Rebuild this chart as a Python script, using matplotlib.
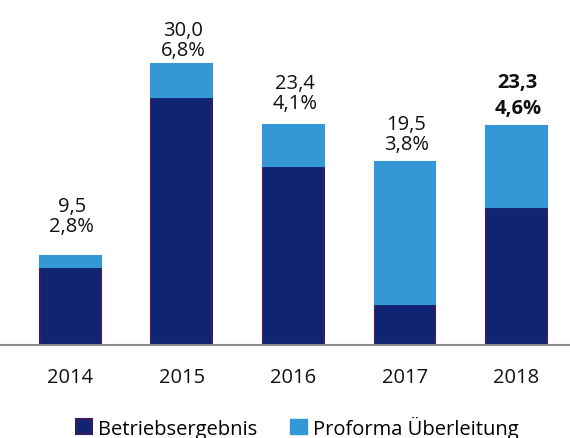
import matplotlib
matplotlib.use("Agg")
import matplotlib.pyplot as plt
from matplotlib.patches import Patch

years = ["2014", "2015", "2016", "2017", "2018"]
betriebsergebnis = [8.3, 26.4, 19.1, 4.3, 14.7]
totals = [9.5, 30.0, 23.4, 19.5, 23.3]
proforma = [t - b for t, b in zip(totals, betriebsergebnis)]
value_labels = ["9,5", "30,0", "23,4", "19,5", "23,3"]
pct_labels = ["2,8%", "6,8%", "4,1%", "3,8%", "4,6%"]
bold_flags = [False, False, False, False, True]
label_gap_px = [20, 4, 12, 8, 8]

dark = "#0f2574"
dark_edge = "#3b1d5e"
light = "#3497d6"

plt.rcParams['font.family'] = ['Open Sans', 'DejaVu Sans']

fig = plt.figure(figsize=(5.7, 4.39), dpi=100)
ax = fig.add_axes([0, (439 - 345.7) / 439, 1, 345.7 / 439])

x = list(range(len(years)))
w = 0.545
ax.bar(x, betriebsergebnis, width=w, color=dark, edgecolor=dark_edge, linewidth=1.5)
ax.bar(x, proforma, bottom=betriebsergebnis, width=w, color=light, edgecolor=light, linewidth=1.5)

for i in x:
    fw = "bold" if bold_flags[i] else "normal"
    ls = 1.45 if bold_flags[i] else 1.0
    ax.annotate(value_labels[i] + "\n" + pct_labels[i], xy=(i, totals[i]),
                xytext=(1, label_gap_px[i] * 0.72), textcoords="offset points",
                ha="center", va="bottom", fontsize=14.5, fontweight=fw,
                linespacing=ls, color="#111111")

ax.set_xlim(-0.63, 4.48)
ax.set_ylim(0, 36.9)
for s in ["top", "right", "left"]:
    ax.spines[s].set_visible(False)
ax.spines["bottom"].set_color("#8a8a8a")
ax.spines["bottom"].set_linewidth(1.5)
ax.set_yticks([])
ax.set_xticks(x)
ax.set_xticklabels(years, fontsize=14.5, color="#111111")
ax.tick_params(axis="x", length=0, pad=16)

handles = [Patch(facecolor=dark, edgecolor=dark_edge, linewidth=1.5),
           Patch(facecolor=light, edgecolor=light)]
fig.legend(handles, ["Betriebsergebnis", "Proforma Überleitung"],
           loc="center", bbox_to_anchor=(297 / 570, 1 - 428 / 439), ncol=2,
           frameon=False, fontsize=14.5, handlelength=0.8, handleheight=0.8,
           handletextpad=0.3, columnspacing=1.65, borderpad=0)

fig.savefig("out.png", dpi=100)
